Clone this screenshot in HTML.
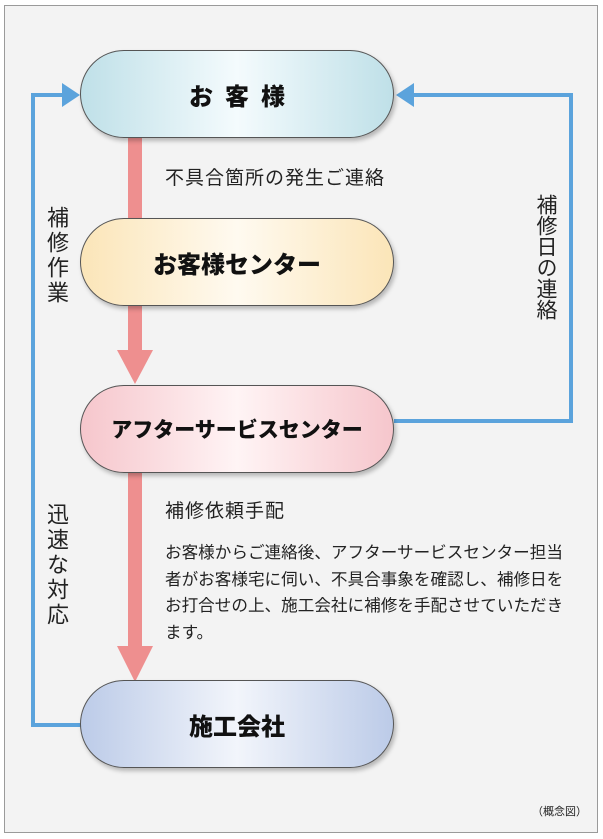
<!DOCTYPE html>
<html><head><meta charset="utf-8"><style>
body{margin:0;width:603px;height:839px;background:#fff;position:relative;overflow:hidden;font-family:"Liberation Sans","Noto Sans CJK JP",sans-serif;color:#222}
.frame{position:absolute;left:4px;top:5px;width:592px;height:826px;border:1px solid #9a9a9a;background:#f3f3f3}
.pill{position:absolute;left:80px;width:314px;height:88px;border-radius:44px;border:1px solid #555;box-sizing:border-box;display:flex;align-items:center;justify-content:center;font-weight:900;font-size:24px;color:#111;box-shadow:2px 3px 4px rgba(0,0,0,.25)}
.v{position:absolute;writing-mode:vertical-rl;font-size:21px;color:#222}
.a{position:absolute;background:#ee8f8f}
.b{position:absolute;background:#5ba3dc}
.t{position:absolute;font-size:19px;color:#222;letter-spacing:1px;white-space:nowrap}
</style></head><body>
<div class="frame"></div>
<div class="b" style="left:31px;top:93px;width:4px;height:634px"></div>
<div class="b" style="left:31px;top:723px;width:50px;height:4px"></div>
<div class="b" style="left:31px;top:93px;width:35px;height:4px"></div>
<svg style="position:absolute;left:62px;top:83px" width="20" height="24"><polygon points="0,0 18,12 0,24" fill="#5ba3dc"/></svg>
<div class="b" style="left:569px;top:93px;width:4px;height:330px"></div>
<div class="b" style="left:412px;top:93px;width:161px;height:4px"></div>
<div class="b" style="left:394px;top:419px;width:179px;height:4px"></div>
<svg style="position:absolute;left:395px;top:83px" width="20" height="24"><polygon points="19,0 1,12 19,24" fill="#5ba3dc"/></svg>
<div class="a" style="left:128px;top:138px;width:14px;height:82px"></div>
<div class="a" style="left:128px;top:306px;width:14px;height:46px"></div>
<svg style="position:absolute;left:117px;top:350px" width="36" height="34"><polygon points="0,0 36,0 18,34" fill="#ee8f8f"/></svg>
<div class="a" style="left:128px;top:472px;width:14px;height:176px"></div>
<svg style="position:absolute;left:117px;top:646px" width="36" height="36"><polygon points="0,0 36,0 18,36" fill="#ee8f8f"/></svg>
<div class="pill" style="top:50px;background:linear-gradient(90deg,#bfe0e8,#f4fbfd 50%,#bfe0e8);letter-spacing:12px;padding-left:12px">お客様</div>
<div class="pill" style="top:218px;background:linear-gradient(90deg,#fbe5b8,#fffaf0 50%,#fbe5b8)">お客様センター</div>
<div class="pill" style="top:385px;background:linear-gradient(90deg,#f6c6cc,#fff4f5 50%,#f6c6cc);font-size:21px">アフターサービスセンター</div>
<div class="pill" style="top:680px;background:linear-gradient(90deg,#bccbe8,#f2f5fb 50%,#bccbe8)">施工会社</div>
<div class="t" style="left:165px;top:163px">不具合箇所の発生ご連絡</div>
<div class="v" style="left:40px;top:206px;font-size:22px;letter-spacing:3px">補修作業</div>
<div class="v" style="left:530px;top:194px">補修日の連絡</div>
<div class="v" style="left:40px;top:503px;font-size:22px;letter-spacing:3px">迅速な対応</div>
<div class="t" style="left:165px;top:496px">補修依頼手配</div>
<div class="t" style="left:165px;top:540px;font-size:16.6px;letter-spacing:0;line-height:26.5px;white-space:normal;width:405px">お客様からご連絡後、アフターサービスセンター担当者がお客様宅に伺い、不具合事象を確認し、補修日をお打合せの上、施工会社に補修を手配させていただきます。</div>
<div class="t" style="left:532px;top:803px;font-size:11px;letter-spacing:0">（概念図）</div>
</body></html>
